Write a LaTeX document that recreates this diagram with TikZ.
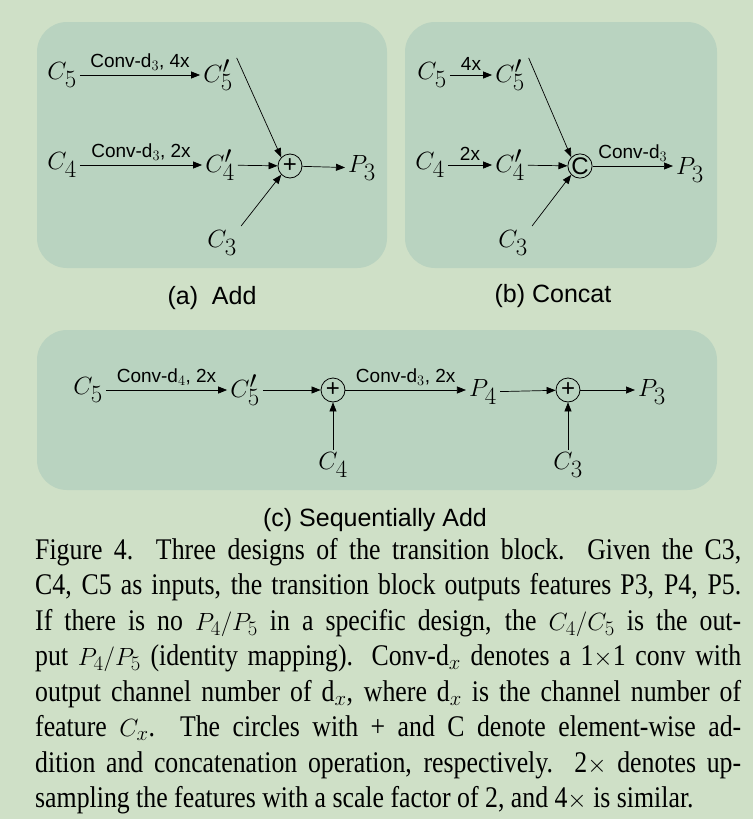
\documentclass[tikz,border=0pt]{standalone}
\usepackage{fontspec}
\setmainfont{Liberation Serif}[FakeStretch=0.86]
\setsansfont{Liberation Sans}
\usetikzlibrary{arrows.meta,positioning}
\definecolor{pagebg}{HTML}{CFE0C7}
\definecolor{panelbg}{HTML}{B9D3C0}
\tikzset{
  panel/.style={fill=panelbg,draw=none,rounded corners=30pt},
  feat/.style={inner sep=3pt,font=\fontsize{39}{39}\selectfont},
  op/.style={circle,draw,thick,minimum size=24pt,inner sep=0pt,font=\sffamily\fontsize{24}{24}\selectfont},
  lbl/.style={font=\sffamily\fontsize{19}{19}\selectfont,inner sep=1pt},
  sub/.style={font=\sffamily\fontsize{25}{25}\selectfont},
  arr/.style={-{Triangle[length=9pt,width=7pt]},line width=0.7pt}
}
\begin{document}
\begin{tikzpicture}[x=1pt,y=-1pt]
  \fill[pagebg] (0,0) rectangle (753,819);
  \useasboundingbox (0,0) rectangle (753,819);
  % panels
  \fill[panel] (37,22) rectangle (387,268);
  \fill[panel] (405,22) rectangle (717,268);
  \fill[panel] (37,330) rectangle (717,490);
  \node[sub] (capa) at (212,298) {(a)~~Add};
  \node[sub] (capb) at (553,296) {(b) Concat};
  \node[sub] (capc) at (375,520) {(c) Sequentially Add};

  % (a) Add
  \node[feat] (a5) at (62,75) {$C_5$};
  \node[feat] (a5p) at (218,75) {$C_5'$};
  \node[feat] (a4) at (62,165) {$C_4$};
  \node[feat] (a4p) at (220,165) {$C_4'$};
  \node[op] (aadd) at (290,166) {+};
  \node[feat] (ap3) at (362,168) {$P_3$};
  \node[feat] (a3) at (222,243) {$C_3$};
  \draw[arr] (a5) -- node[lbl,above=3pt] {Conv-d$_3$, 4x} (a5p.west |- a5);
  \draw[arr] (a4) -- node[lbl,above=3pt] {Conv-d$_3$, 2x} (a4p.west |- a4);
  \draw[arr] (a4p) -- (aadd);
  \draw[arr] (aadd) -- (ap3);
  \draw[arr,shorten <=2pt] (a5p.north east) -- (aadd.north west);
  \draw[arr,shorten <=2pt] (a3.north east) -- (aadd.south west);

  % (b) Concat
  \node[feat] (b5) at (432,75) {$C_5$};
  \node[feat] (b5p) at (510,75) {$C_5'$};
  \node[feat] (b4) at (430,165) {$C_4$};
  \node[feat] (b4p) at (510,165) {$C_4'$};
  \node[op] (bcat) at (580,166) {C};
  \node[feat] (bp3) at (690,170) {$P_3$};
  \node[feat] (b3) at (513,243) {$C_3$};
  \draw[arr] (b5) -- node[lbl,above=3pt] {4x} (b5p.west |- b5);
  \draw[arr] (b4) -- node[lbl,above=3pt] {2x} (b4p.west |- b4);
  \draw[arr] (b4p) -- (bcat);
  \draw[arr] (bcat) -- node[lbl,above=3pt] {Conv-d$_3$} (bp3.west |- bcat);
  \draw[arr,shorten <=2pt] (b5p.north east) -- (bcat.north west);
  \draw[arr,shorten <=2pt] (b3.north east) -- (bcat.south west);

  % (c) Sequentially Add
  \node[feat] (c5) at (88,390) {$C_5$};
  \node[feat] (c5p) at (245,390) {$C_5'$};
  \node[op] (cadd1) at (333,390) {+};
  \node[feat] (cp4) at (483,392) {$P_4$};
  \node[op] (cadd2) at (568,390) {+};
  \node[feat] (cp3) at (652,392) {$P_3$};
  \node[feat] (c4) at (333,465) {$C_4$};
  \node[feat] (c3) at (568,465) {$C_3$};
  \draw[arr] (c5) -- node[lbl,above=3pt] {Conv-d$_4$, 2x} (c5p.west |- c5);
  \draw[arr] (c5p) -- (cadd1);
  \draw[arr] (cadd1) -- node[lbl,above=3pt] {Conv-d$_3$, 2x} (cp4.west |- cadd1);
  \draw[arr] (cp4) -- (cadd2);
  \draw[arr] (cadd2) -- (cp3.west |- cadd2);
  \draw[arr] (c4) -- (cadd1);
  \draw[arr] (c3) -- (cadd2);

  % caption
  \node[anchor=north west,inner sep=0pt,text width=706pt,align=justify,
        font=\fontsize{30}{35.5}\selectfont] (caption) at (35,538)
  {Figure 4.\ \ Three designs of the transition block.\ \ Given the C3,\linebreak
   C4, C5 as inputs, the transition block outputs features P3, P4, P5.\linebreak
   If there is no $P_4/P_5$ in a specific design, the $C_4/C_5$ is the out-\linebreak
   put $P_4/P_5$ (identity mapping). Conv-d$_x$ denotes a 1$\times$1 conv with\linebreak
   output channel number of d$_x$, where d$_x$ is the channel number of\linebreak
   feature $C_x$.\ \ The circles with + and C denote element-wise ad-\linebreak
   dition and concatenation operation, respectively.\ \ 2$\times$ denotes up-\linebreak
   sampling the features with a scale factor of 2, and 4$\times$ is similar.};
\end{tikzpicture}
\end{document}
